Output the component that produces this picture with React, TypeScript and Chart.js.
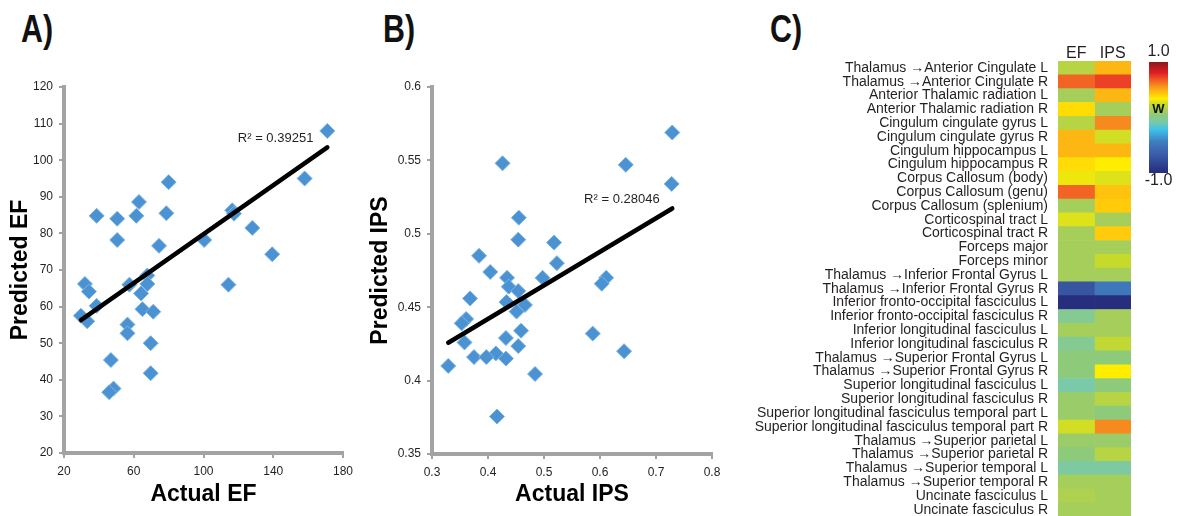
import React, { useEffect, useRef } from "react";
import { Chart, registerables } from "chart.js";

Chart.register(...registerables);

const FONT = "'Liberation Sans', Arial, Helvetica, sans-serif";
const INK = "#231F20";
const AXIS_GREY = "#A3A3A3";
const MARKER_FILL = "#4A92D2";
const MARKER_EDGE = "#7DB4E4";

Chart.defaults.font.family = FONT;
Chart.defaults.color = INK;

// ---- Panel A: executive function ----
const EF_ACTUAL = [
  171, 158, 80, 63, 38.7, 50.5, 61.5, 78.7, 50.5, 116.5, 117.5, 128, 100.4, 74.5, 139.4,
  114.3, 32, 34.3, 29.7, 33.3, 38.7, 57.5, 67.8, 67.8, 64.2, 65, 71.2, 56.4, 56.4, 69.7,
  46.9, 69.7, 48.4, 45.9,
];
const EF_PREDICTED = [
  108, 95, 94, 88.6, 84.8, 84, 84.8, 85.5, 78.2, 86.3, 85.4, 81.5, 78.2, 76.6, 74.3,
  66, 66.2, 64.1, 57.5, 56, 60.2, 66, 68.5, 66.2, 63.6, 59.3, 58.6, 55.1, 52.7, 50,
  45.4, 41.8, 37.6, 36.6,
];
const EF_FIT = { slope: 0.334, intercept: 46.4 };
const EF_R2 = "R\u00B2 = 0.39251";
const EF_X_RANGE = { min: 20, max: 180, step: 40 };
const EF_Y_RANGE = { min: 20, max: 120, step: 10 };

// ---- Panel B: IPS ----
const IPS_ACTUAL = [
  0.729, 0.646, 0.426, 0.728, 0.455, 0.454, 0.518, 0.384, 0.523, 0.404, 0.434, 0.4975,
  0.611, 0.603, 0.437, 0.454, 0.368, 0.433, 0.466, 0.451, 0.361, 0.353, 0.459, 0.587,
  0.432, 0.358, 0.454, 0.643, 0.414, 0.375, 0.397, 0.432, 0.329, 0.484, 0.416,
];
const IPS_PREDICTED = [
  0.569, 0.547, 0.548, 0.534, 0.511, 0.496, 0.494, 0.485, 0.48, 0.474, 0.47, 0.47,
  0.47, 0.466, 0.464, 0.461, 0.456, 0.4535, 0.4515, 0.447, 0.442, 0.439, 0.434, 0.432,
  0.429, 0.426, 0.4235, 0.42, 0.4185, 0.416, 0.416, 0.415, 0.41, 0.4045, 0.3755,
];
const IPS_FIT = { slope: 0.2286, intercept: 0.3506 };
const IPS_R2 = "R\u00B2 = 0.28046";
const IPS_X_RANGE = { min: 0.3, max: 0.8, step: 0.1 };
const IPS_Y_RANGE = { min: 0.35, max: 0.6, step: 0.05 };

// ---- Panel C: tract weights ----
const TRACTS = [
  "Thalamus \u2192Anterior Cingulate L",
  "Thalamus \u2192Anterior Cingulate R",
  "Anterior Thalamic radiation L",
  "Anterior Thalamic radiation R",
  "Cingulum cingulate gyrus L",
  "Cingulum cingulate gyrus R",
  "Cingulum hippocampus L",
  "Cingulum hippocampus R",
  "Corpus Callosum (body)",
  "Corpus Callosum (genu)",
  "Corpus Callosum (splenium)",
  "Corticospinal tract L",
  "Corticospinal tract R",
  "Forceps major",
  "Forceps minor",
  "Thalamus \u2192Inferior Frontal Gyrus L",
  "Thalamus \u2192Inferior Frontal Gyrus R",
  "Inferior fronto-occipital fasciculus L",
  "Inferior fronto-occipital fasciculus R",
  "Inferior longitudinal fasciculus L",
  "Inferior longitudinal fasciculus R",
  "Thalamus \u2192Superior Frontal Gyrus L",
  "Thalamus \u2192Superior Frontal Gyrus R",
  "Superior longitudinal fasciculus L",
  "Superior longitudinal fasciculus R",
  "Superior longitudinal fasciculus temporal part L",
  "Superior longitudinal fasciculus temporal part R",
  "Thalamus \u2192Superior parietal L",
  "Thalamus \u2192Superior parietal R",
  "Thalamus \u2192Superior temporal L",
  "Thalamus \u2192Superior temporal R",
  "Uncinate fasciculus L",
  "Uncinate fasciculus R",
];
const COLUMNS = ["EF", "IPS"];
const EF_WEIGHTS = [
  0.18, 0.66, 0.12, 0.38, 0.18, 0.47, 0.47, 0.38, 0.31, 0.66, 0.12, 0.28, 0.12, 0.12, 0.12,
  0.12, -0.72, -0.98, -0.02, 0.12, -0.02, 0.04, 0.04, -0.08, 0.08, 0.08, 0.26, 0.08, 0.04,
  -0.06, 0.12, 0.15, 0.12,
];
const IPS_WEIGHTS = [
  0.47, 0.73, 0.47, 0.12, 0.58, 0.26, 0.47, 0.34, 0.28, 0.44, 0.42, 0.12, 0.42, 0.12, 0.24,
  0.12, -0.48, -0.98, 0.12, 0.12, 0.22, 0.04, 0.34, 0.04, 0.18, 0.04, 0.58, 0.08, 0.18,
  -0.06, 0.12, 0.12, 0.12,
];

// colour scale, position 0 = -1.0, position 1 = +1.0
const CMAP_POS = [0, 0.16, 0.28, 0.39, 0.46, 0.52, 0.56, 0.62, 0.67, 0.72, 0.78, 0.84, 0.9, 1];
const CMAP_COLORS = [
  "#262B7A", "#3A5BA8", "#3F7CC0", "#3EC1EA", "#7ACAAA", "#8DCA7A", "#A6CE5A",
  "#C6DA2C", "#FFED00", "#FFC20E", "#F7941D", "#F15A24", "#E31E24", "#8B1A1A",
];
const COLORBAR_TICKS = ["1.0", "-1.0"];
const COLORBAR_NAME = "W";

function hexToRgb(h: string) {
  const n = parseInt(h.slice(1), 16);
  return [(n >> 16) & 255, (n >> 8) & 255, n & 255];
}

function colorFor(v: number) {
  const t = Math.min(1, Math.max(0, (v + 1) / 2));
  for (let i = 1; i < CMAP_POS.length; i++) {
    if (t <= CMAP_POS[i]) {
      const f = (t - CMAP_POS[i - 1]) / (CMAP_POS[i] - CMAP_POS[i - 1]);
      const a = hexToRgb(CMAP_COLORS[i - 1]);
      const b = hexToRgb(CMAP_COLORS[i]);
      const c = a.map((av, k) => Math.round(av + (b[k] - av) * f));
      return `rgb(${c[0]},${c[1]},${c[2]})`;
    }
  }
  return CMAP_COLORS[CMAP_COLORS.length - 1];
}

// R² annotation placed in data units of the chart
const r2Label = {
  id: "r2Label",
  afterDatasetsDraw(chart: any, _args: any, opts: any) {
    const { ctx, scales } = chart;
    ctx.save();
    ctx.font = `13px ${FONT}`;
    ctx.fillStyle = INK;
    ctx.textAlign = "right";
    ctx.textBaseline = "middle";
    ctx.fillText(opts.text, scales.x.getPixelForValue(opts.x), scales.y.getPixelForValue(opts.y));
    ctx.restore();
  },
};

// vertical colour bar drawn to the right of the heatmap
const colorBar = {
  id: "colorBar",
  afterDraw(chart: any) {
    const { ctx, chartArea } = chart;
    const x = chartArea.right + 18;
    const y = chartArea.top + 1;
    const w = 19;
    const h = 111;
    const g = ctx.createLinearGradient(0, y + h, 0, y);
    CMAP_POS.forEach((p, i) => g.addColorStop(p, CMAP_COLORS[i]));
    ctx.save();
    ctx.fillStyle = g;
    ctx.fillRect(x, y, w, h);
    ctx.fillStyle = INK;
    ctx.textAlign = "center";
    ctx.textBaseline = "middle";
    ctx.font = `16px ${FONT}`;
    ctx.fillText(COLORBAR_TICKS[0], x + w / 2, y - 10);
    ctx.fillText(COLORBAR_TICKS[1], x + w / 2, y + h + 8);
    ctx.font = `bold 13px ${FONT}`;
    ctx.fillStyle = "#111";
    ctx.fillText(COLORBAR_NAME, x + w / 2, y + 47);
    ctx.restore();
  },
};

type ScatterSpec = {
  xs: number[];
  ys: number[];
  fit: { slope: number; intercept: number };
  r2: string;
  r2At: { x: number; y: number };
  xRange: { min: number; max: number; step: number };
  yRange: { min: number; max: number; step: number };
  xTitle: string;
  yTitle: string;
  yAxisWidth: number;
  yTitlePad: number;
  padRight: number;
  xAxisHeight: number;
  xFmt: (v: number) => string;
  yFmt: (v: number) => string;
};

function scatterConfig(s: ScatterSpec): any {
  const lo = Math.min(...s.xs);
  const hi = Math.max(...s.xs);
  const trend = [lo, hi].map((x) => ({ x, y: s.fit.slope * x + s.fit.intercept }));
  const points = s.xs.map((x, i) => ({ x, y: s.ys[i] }));
  const axisGrid = {
    drawOnChartArea: false,
    drawTicks: true,
    tickLength: 5,
    color: AXIS_GREY,
    lineWidth: 2,
  };
  const axisBorder = { display: true, color: AXIS_GREY, width: 4 };
  return {
    type: "scatter",
    data: {
      datasets: [
        {
          data: trend,
          showLine: true,
          borderColor: "#000",
          borderWidth: 4.5,
          borderCapStyle: "round",
          pointRadius: 0,
        },
        {
          data: points,
          pointStyle: "rectRot",
          pointRadius: 7.5,
          backgroundColor: MARKER_FILL,
          borderColor: MARKER_EDGE,
          borderWidth: 1,
        },
      ],
    },
    options: {
      animation: false,
      responsive: false,
      layout: { padding: { left: 0, top: 17, right: s.padRight, bottom: 0 } },
      plugins: {
        legend: { display: false },
        tooltip: { enabled: false },
        r2Label: { text: s.r2, x: s.r2At.x, y: s.r2At.y },
      },
      scales: {
        x: {
          type: "linear",
          min: s.xRange.min,
          max: s.xRange.max,
          ticks: {
            stepSize: s.xRange.step,
            color: INK,
            font: { size: 12 },
            padding: 6,
            maxRotation: 0,
            autoSkip: false,
            callback: (v: number) => s.xFmt(v),
          },
          grid: axisGrid,
          border: axisBorder,
          title: {
            display: true,
            text: s.xTitle,
            color: "#000",
            font: { size: 23, weight: "bold" },
            padding: { top: 0, bottom: 8 },
          },
          afterFit(scale: any) {
            scale.height = s.xAxisHeight;
          },
        },
        y: {
          type: "linear",
          min: s.yRange.min,
          max: s.yRange.max,
          ticks: {
            stepSize: s.yRange.step,
            color: INK,
            font: { size: 12 },
            padding: 6,
            autoSkip: false,
            callback: (v: number) => s.yFmt(v),
          },
          grid: axisGrid,
          border: axisBorder,
          title: {
            display: true,
            text: s.yTitle,
            color: "#000",
            font: { size: 23, weight: "bold" },
            padding: { top: s.yTitlePad, bottom: 0 },
          },
          afterFit(scale: any) {
            scale.width = s.yAxisWidth;
          },
        },
      },
    },
    plugins: [r2Label],
  };
}

function heatmapConfig(): any {
  const ones = TRACTS.map(() => 1);
  return {
    type: "bar",
    data: {
      labels: TRACTS,
      datasets: [
        {
          label: COLUMNS[0],
          data: ones,
          backgroundColor: EF_WEIGHTS.map(colorFor),
          borderWidth: 0,
          barPercentage: 1,
          categoryPercentage: 1,
        },
        {
          label: COLUMNS[1],
          data: ones,
          backgroundColor: IPS_WEIGHTS.map(colorFor),
          borderWidth: 0,
          barPercentage: 1,
          categoryPercentage: 1,
        },
      ],
    },
    options: {
      indexAxis: "y",
      animation: false,
      responsive: false,
      layout: { padding: { left: 0, top: 36, right: 46, bottom: 0 } },
      plugins: { legend: { display: false }, tooltip: { enabled: false } },
      scales: {
        x: {
          type: "linear",
          position: "top",
          stacked: true,
          min: 0,
          max: COLUMNS.length,
          grid: { display: false, drawTicks: false },
          border: { display: false },
          afterBuildTicks(scale: any) {
            scale.ticks = COLUMNS.map((_, i) => ({ value: i + 0.5 }));
          },
          ticks: {
            color: INK,
            font: { size: 16 },
            padding: -2,
            maxRotation: 0,
            autoSkip: false,
            callback: (_v: number, i: number) => COLUMNS[i],
          },
          afterFit(scale: any) {
            scale.height = 25;
          },
        },
        y: {
          type: "category",
          stacked: true,
          grid: { display: false, drawTicks: true, tickLength: 10 },
          border: { display: false },
          ticks: { color: INK, font: { size: 14 }, padding: 0, autoSkip: false },
          afterFit(scale: any) {
            scale.width = 318;
          },
        },
      },
    },
    plugins: [colorBar],
  };
}

function useChart(ref: React.RefObject<HTMLCanvasElement>, make: () => any) {
  useEffect(() => {
    if (!ref.current) return;
    const chart = new Chart(ref.current, make());
    return () => chart.destroy();
  }, []);
}

const panelLetter = (left: number): React.CSSProperties => ({
  position: "absolute",
  left,
  top: 10,
  fontFamily: FONT,
  fontWeight: "bold",
  fontSize: 38,
  lineHeight: "38px",
  color: "#111",
  transform: "scaleX(0.8)",
  transformOrigin: "left top",
});

export default function App() {
  const aRef = useRef<HTMLCanvasElement>(null);
  const bRef = useRef<HTMLCanvasElement>(null);
  const cRef = useRef<HTMLCanvasElement>(null);

  useChart(aRef, () =>
    scatterConfig({
      xs: EF_ACTUAL,
      ys: EF_PREDICTED,
      fit: EF_FIT,
      r2: EF_R2,
      r2At: { x: 163, y: 106 },
      xRange: EF_X_RANGE,
      yRange: EF_Y_RANGE,
      xTitle: "Actual EF",
      yTitle: "Predicted EF",
      yAxisWidth: 64,
      yTitlePad: 7,
      padRight: 27,
      xAxisHeight: 63,
      xFmt: (v) => String(v),
      yFmt: (v) => String(v),
    })
  );
  useChart(bRef, () =>
    scatterConfig({
      xs: IPS_ACTUAL,
      ys: IPS_PREDICTED,
      fit: IPS_FIT,
      r2: IPS_R2,
      r2At: { x: 0.7065, y: 0.5236 },
      xRange: IPS_X_RANGE,
      yRange: IPS_Y_RANGE,
      xTitle: "Actual IPS",
      yTitle: "Predicted IPS",
      yAxisWidth: 66,
      yTitlePad: 1,
      padRight: 28,
      xAxisHeight: 62,
      xFmt: (v) => String(Number(v.toFixed(1))),
      yFmt: (v) => String(Number(v.toFixed(2))),
    })
  );
  useChart(cRef, heatmapConfig);

  return (
    <div
      style={{
        position: "absolute",
        left: 0,
        top: 0,
        width: 1177,
        height: 516,
        overflow: "hidden",
        background: "#fff",
      }}
    >
      <div style={panelLetter(21)}>A)</div>
      <div style={panelLetter(383)}>B)</div>
      <div style={panelLetter(770)}>C)</div>
      <canvas ref={aRef} width={370} height={446} style={{ position: "absolute", left: 0, top: 70 }} />
      <canvas ref={bRef} width={374} height={446} style={{ position: "absolute", left: 366, top: 70 }} />
      {/* extra height below the visible area absorbs the category axis label padding */}
      <canvas ref={cRef} width={437} height={525} style={{ position: "absolute", left: 740, top: 0 }} />
    </div>
  );
}
